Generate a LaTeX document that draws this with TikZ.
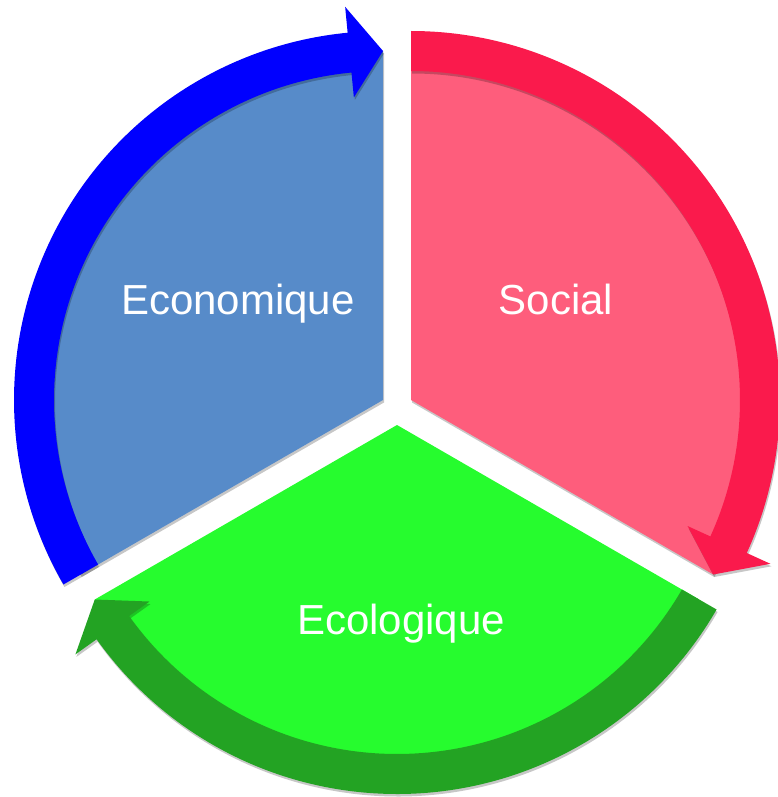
\documentclass[tikz,border=0pt]{standalone}
\usepackage{fontspec}
\newfontfamily\labelfont{Liberation Sans}
\usepackage{tikz}
\usetikzlibrary{shadows}
\definecolor{ecolight}{RGB}{87,139,201}
\definecolor{ecodark}{RGB}{0,0,255}
\definecolor{soclight}{RGB}{254,93,124}
\definecolor{socdark}{RGB}{250,26,76}
\definecolor{envlight}{RGB}{38,252,46}
\definecolor{envdark}{RGB}{35,163,35}
\tikzstyle{part} = [drop shadow={shadow xshift=1pt, shadow yshift=-2.5pt,
    opacity=0.22, fill=black}]
\tikzstyle{pielabel} = [text=white, anchor=base,
    font=\labelfont\fontsize{42}{50}\selectfont]

\begin{document}
\begin{tikzpicture}[x=1pt, y=1pt]
  \useasboundingbox (0,0) rectangle (778,-797);
  % Economique
  \begin{scope}[shift={(383,-400)}]
    \fill [part, ecolight] (0,0) -- (210:349)
      arc[start angle=210, end angle=90, radius=349] -- cycle;
    \fill [part, ecodark] (210:369)
      arc[start angle=210, end angle=95.5, radius=369]
      -- (95.5:395) -- (90:349) -- (95.5:304) -- (95.5:329)
      arc[start angle=95.5, end angle=210, radius=329] -- cycle;
  \end{scope}
  % Social
  \begin{scope}[shift={(411,-400)}]
    \fill [part, soclight] (0,0) -- (90:349)
      arc[start angle=90, end angle=-30, radius=349] -- cycle;
    \fill [part, socdark] (90:369)
      arc[start angle=90, end angle=-24.5, radius=369]
      -- (-24.5:395) -- (-30:349) -- (-24.5:304) -- (-24.5:329)
      arc[start angle=-24.5, end angle=90, radius=329] -- cycle;
  \end{scope}
  % Ecologique
  \begin{scope}[shift={(397,-425)}]
    \fill [part, envlight] (0,0) -- (-30:349)
      arc[start angle=-30, end angle=-150, radius=349] -- cycle;
    \fill [part, envdark] (-30:369)
      arc[start angle=-30, end angle=-144.5, radius=369]
      -- (-144.5:395) -- (-150:349) -- (-144.5:304) -- (-144.5:329)
      arc[start angle=-144.5, end angle=-30, radius=329] -- cycle;
  \end{scope}
  % Place labels
  \node [pielabel] (eco) at (238,-314) {Economique};
  \node [pielabel] (soc) at (556,-314) {Social};
  \node [pielabel] (env) at (401,-634) {Ecologique};
\end{tikzpicture}
\end{document}
